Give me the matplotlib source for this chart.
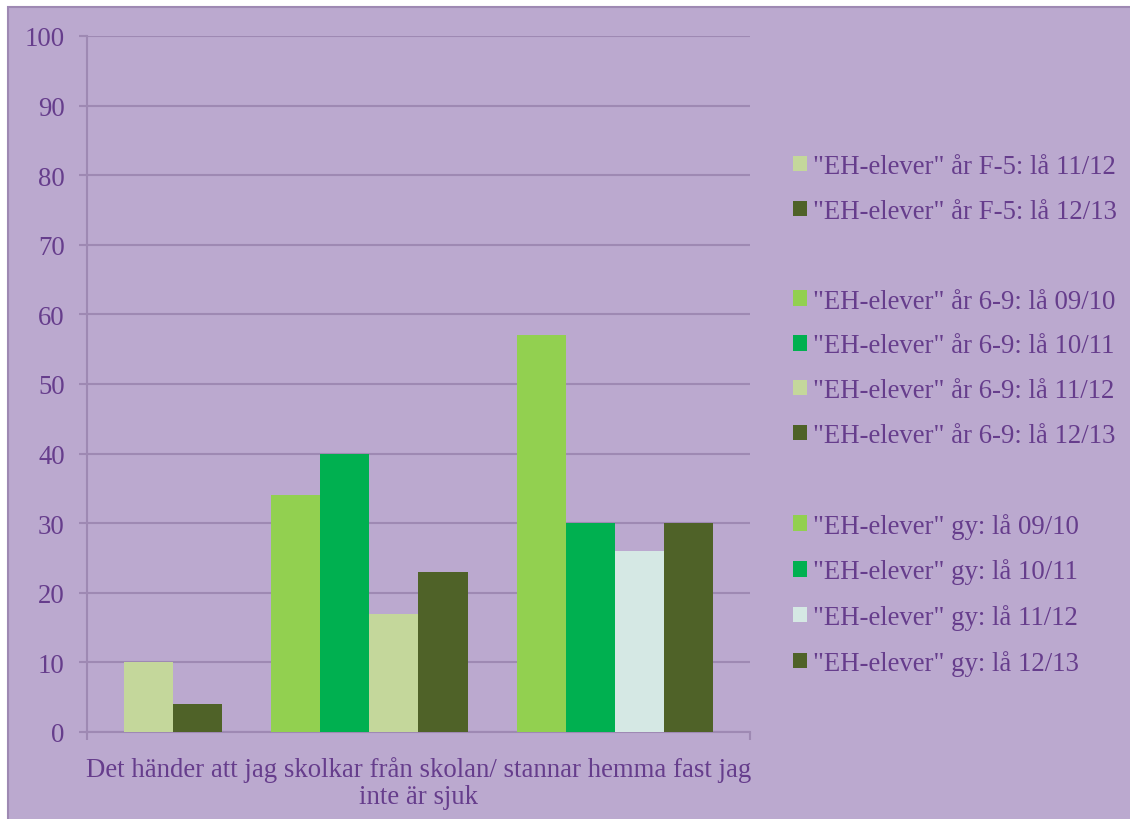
import matplotlib.pyplot as plt
from matplotlib.patches import Rectangle
import numpy as np

category = "Det händer att jag skolkar från skolan/ stannar hemma fast jag\ninte är sjuk"

# 12 series, two of them are blank spacers (Excel style)
series = ['"EH-elever" år F-5: lå 11/12', '"EH-elever" år F-5: lå 12/13', ' ',
          '"EH-elever" år 6-9: lå 09/10', '"EH-elever" år 6-9: lå 10/11',
          '"EH-elever" år 6-9: lå 11/12', '"EH-elever" år 6-9: lå 12/13', ' ',
          '"EH-elever" gy: lå 09/10', '"EH-elever" gy: lå 10/11',
          '"EH-elever" gy: lå 11/12', '"EH-elever" gy: lå 12/13']
values = [10, 4, np.nan, 34, 40, 17, 23, np.nan, 57, 30, 26, 30]
colors = ['#C4D79B', '#4F6228', 'none', '#92D050', '#00B050', '#C4D79B', '#4F6228',
          'none', '#92D050', '#00B050', '#D5E8E4', '#4F6228']

bg = '#BBA9CF'
txt = '#663D8C'
grid = '#9E89B3'
fs = 19.3

plt.rcParams['font.family'] = ['Liberation Serif', 'DejaVu Serif']

fig = plt.figure(figsize=(11.3, 8.2), dpi=100, facecolor='white')
fig.patches.append(Rectangle((8 / 1130, -0.01), 1.01, 1.01 - 8 / 820, transform=fig.transFigure,
                             facecolor=bg, edgecolor=grid, linewidth=1.5, zorder=-1))

ax = fig.add_axes([87 / 1130, 1 - 733 / 820, (750 - 87) / 1130, (733 - 37) / 820])
ax.set_facecolor(bg)

n = len(series)
w = 1 / (n + 1.5)
handles = []
for i in range(n):
    x = -n * w / 2 + w * (i + 0.5)
    b = ax.bar(x, np.nan_to_num(values[i]), width=w, color=colors[i], zorder=3)
    handles.append(b)

ax.set_xlim(-0.5, 0.5)
ax.set_ylim(0, 100)
ax.set_yticks(range(0, 101, 10))
ax.yaxis.grid(True, color=grid, linewidth=1.5, zorder=0)
ax.set_xticks([0])
ax.set_xticklabels([category], linespacing=1.15)
ax.set_xticks([-0.5, 0.5], minor=True)
ax.tick_params(axis='x', which='major', length=0, pad=17, labelsize=fs, labelcolor=txt)
ax.tick_params(axis='x', which='minor', length=6, width=1.5, color=grid, direction='out')
ax.tick_params(axis='y', length=6, width=1.5, color=grid, labelsize=fs, labelcolor=txt, pad=10)

for s in ['top', 'right']:
    ax.spines[s].set_visible(False)
for s in ['left', 'bottom']:
    ax.spines[s].set_color(grid)
    ax.spines[s].set_linewidth(1.5)

leg = fig.legend(handles, series, loc='upper left', bbox_to_anchor=(793 / 1130, 1 - 155 / 820),
                 frameon=False, fontsize=fs, labelcolor=txt, handlelength=0.52,
                 handleheight=0.52, handletextpad=0.22, labelspacing=0.74,
                 borderpad=0, borderaxespad=0)

fig.savefig('out.png', dpi=100, facecolor='white')
